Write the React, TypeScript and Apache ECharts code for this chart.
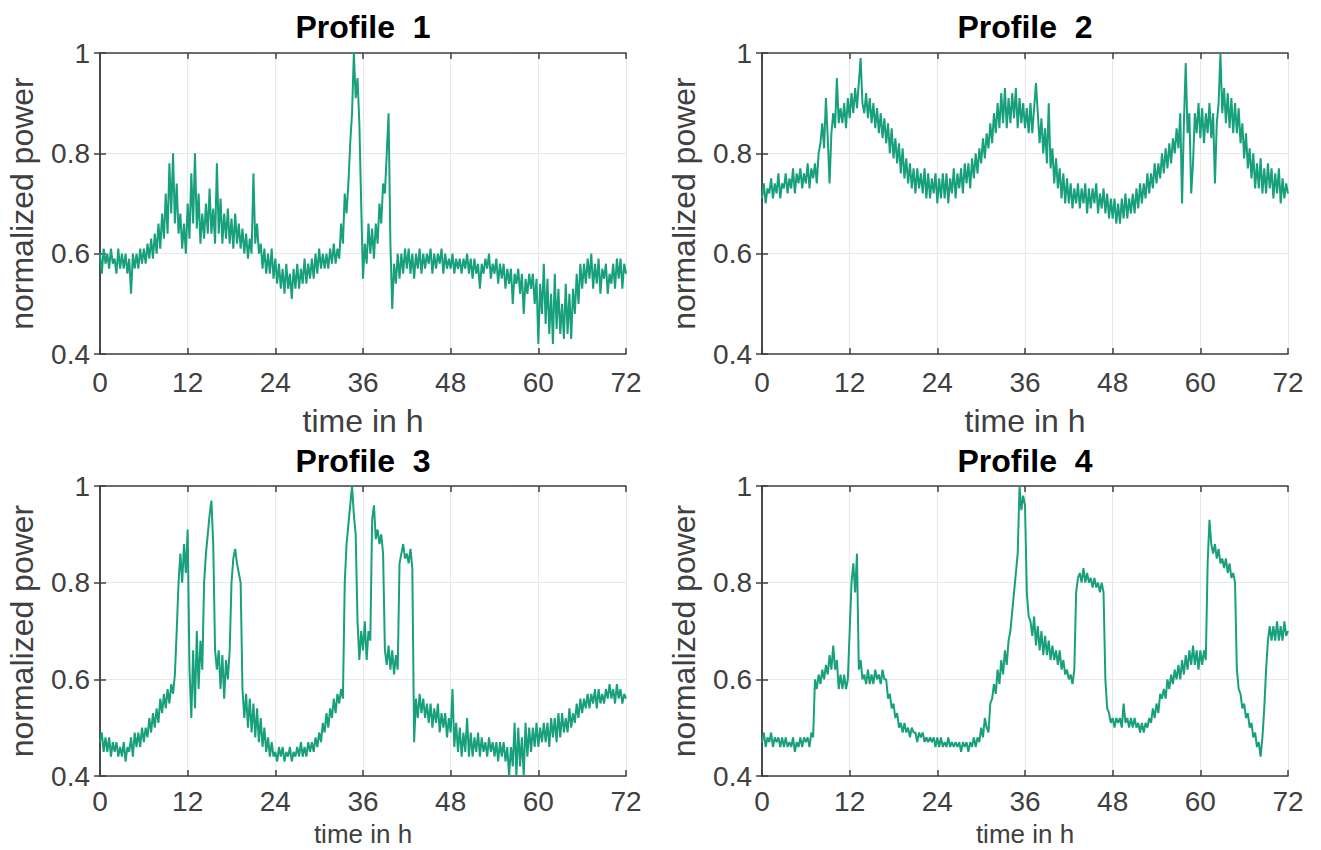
import React, { useEffect, useRef } from "react";
import * as echarts from "echarts";

// time step of the sampled profiles, in hours
const STEP = 0.25;
const X_TICKS = [0, 12, 24, 36, 48, 60, 72];
const Y_TICKS = [0.4, 0.6, 0.8, 1];
const TITLES = ["Profile  1", "Profile  2", "Profile  3", "Profile  4"];

// Each row = one hour, four samples (0, 0.25, 0.5, 0.75 h)
const profile1 = [
  0.60, 0.56, 0.61, 0.58, 0.60, 0.57, 0.61, 0.58, 0.59, 0.56, 0.61, 0.57,
  0.60, 0.57, 0.60, 0.56, 0.59, 0.52, 0.60, 0.57, 0.60, 0.57, 0.61, 0.58,
  0.61, 0.58, 0.62, 0.59, 0.63, 0.59, 0.64, 0.60, 0.66, 0.61, 0.68, 0.63,
  0.72, 0.64, 0.78, 0.68, 0.80, 0.66, 0.74, 0.64, 0.68, 0.61, 0.66, 0.60,
  0.70, 0.63, 0.76, 0.66, 0.80, 0.65, 0.72, 0.62, 0.68, 0.63, 0.70, 0.64,
  0.73, 0.64, 0.69, 0.62, 0.78, 0.64, 0.71, 0.62, 0.68, 0.63, 0.69, 0.62,
  0.67, 0.61, 0.68, 0.62, 0.66, 0.61, 0.65, 0.60, 0.64, 0.59, 0.63, 0.60,
  0.76, 0.62, 0.66, 0.60, 0.62, 0.57, 0.61, 0.56, 0.60, 0.56, 0.61, 0.55,
  0.59, 0.54, 0.58, 0.53, 0.57, 0.52, 0.58, 0.53, 0.56, 0.51, 0.57, 0.53,
  0.58, 0.53, 0.57, 0.54, 0.59, 0.54, 0.58, 0.55, 0.59, 0.55, 0.60, 0.56,
  0.61, 0.57, 0.60, 0.57, 0.60, 0.57, 0.61, 0.58, 0.62, 0.58, 0.61, 0.59,
  0.66, 0.62, 0.72, 0.68, 0.74, 0.82, 0.88, 1.00, 0.91, 0.95, 0.86, 0.70,
  0.55, 0.62, 0.58, 0.66, 0.60, 0.65, 0.59, 0.66, 0.62, 0.70, 0.66, 0.74,
  0.72, 0.80, 0.88, 0.62, 0.49, 0.58, 0.54, 0.60, 0.55, 0.60, 0.56, 0.61,
  0.57, 0.61, 0.56, 0.60, 0.55, 0.60, 0.57, 0.61, 0.56, 0.60, 0.57, 0.60,
  0.58, 0.61, 0.56, 0.60, 0.57, 0.60, 0.58, 0.61, 0.56, 0.60, 0.57, 0.59,
  0.57, 0.60, 0.56, 0.59, 0.57, 0.59, 0.56, 0.59, 0.57, 0.60, 0.56, 0.59,
  0.55, 0.59, 0.56, 0.58, 0.53, 0.58, 0.56, 0.59, 0.57, 0.60, 0.55, 0.58,
  0.56, 0.59, 0.54, 0.58, 0.55, 0.58, 0.53, 0.57, 0.54, 0.57, 0.50, 0.56,
  0.54, 0.57, 0.52, 0.56, 0.48, 0.55, 0.52, 0.56, 0.53, 0.56, 0.50, 0.55,
  0.42, 0.54, 0.48, 0.58, 0.46, 0.55, 0.44, 0.52, 0.42, 0.56, 0.45, 0.53,
  0.44, 0.50, 0.43, 0.54, 0.44, 0.52, 0.43, 0.53, 0.48, 0.56, 0.50, 0.58,
  0.53, 0.58, 0.54, 0.59, 0.55, 0.60, 0.53, 0.58, 0.54, 0.59, 0.52, 0.57,
  0.55, 0.58, 0.52, 0.56, 0.54, 0.58, 0.53, 0.59, 0.55, 0.59, 0.53, 0.58,
  0.56,
];

const profile2 = [
  0.71, 0.74, 0.70, 0.73, 0.72, 0.75, 0.71, 0.74, 0.72, 0.76, 0.71, 0.74,
  0.73, 0.76, 0.72, 0.75, 0.73, 0.77, 0.72, 0.76, 0.74, 0.77, 0.73, 0.76,
  0.74, 0.78, 0.73, 0.77, 0.75, 0.78, 0.74, 0.80, 0.82, 0.86, 0.81, 0.91,
  0.83, 0.74, 0.84, 0.88, 0.85, 0.95, 0.86, 0.89, 0.86, 0.90, 0.85, 0.91,
  0.87, 0.92, 0.88, 0.93, 0.89, 0.94, 0.99, 0.90, 0.88, 0.92, 0.87, 0.91,
  0.86, 0.90, 0.85, 0.89, 0.84, 0.88, 0.83, 0.87, 0.82, 0.86, 0.80, 0.85,
  0.79, 0.83, 0.78, 0.82, 0.76, 0.81, 0.75, 0.79, 0.74, 0.78, 0.73, 0.77,
  0.72, 0.77, 0.73, 0.76, 0.72, 0.77, 0.71, 0.76, 0.71, 0.75, 0.72, 0.76,
  0.70, 0.75, 0.71, 0.76, 0.71, 0.76, 0.70, 0.75, 0.72, 0.77, 0.71, 0.76,
  0.73, 0.77, 0.72, 0.78, 0.74, 0.78, 0.73, 0.79, 0.75, 0.80, 0.76, 0.81,
  0.78, 0.83, 0.79, 0.84, 0.81, 0.86, 0.82, 0.88, 0.84, 0.90, 0.85, 0.92,
  0.86, 0.93, 0.85, 0.91, 0.86, 0.92, 0.87, 0.93, 0.85, 0.91, 0.86, 0.90,
  0.85, 0.89, 0.84, 0.90, 0.84, 0.89, 0.94, 0.88, 0.82, 0.87, 0.80, 0.85,
  0.78, 0.90, 0.77, 0.81, 0.74, 0.79, 0.73, 0.77, 0.71, 0.76, 0.70, 0.75,
  0.70, 0.74, 0.69, 0.73, 0.70, 0.74, 0.69, 0.73, 0.70, 0.74, 0.68, 0.73,
  0.69, 0.73, 0.70, 0.74, 0.68, 0.72, 0.69, 0.73, 0.68, 0.72, 0.67, 0.71,
  0.67, 0.71, 0.66, 0.70, 0.66, 0.71, 0.67, 0.72, 0.67, 0.71, 0.68, 0.72,
  0.68, 0.73, 0.69, 0.74, 0.70, 0.74, 0.71, 0.76, 0.72, 0.76, 0.73, 0.78,
  0.74, 0.78, 0.75, 0.80, 0.76, 0.81, 0.77, 0.82, 0.78, 0.83, 0.80, 0.85,
  0.81, 0.88, 0.70, 0.86, 0.98, 0.84, 0.88, 0.72, 0.78, 0.88, 0.84, 0.90,
  0.83, 0.89, 0.82, 0.88, 0.84, 0.90, 0.83, 0.88, 0.74, 0.86, 0.90, 1.00,
  0.88, 0.93, 0.86, 0.92, 0.85, 0.91, 0.84, 0.90, 0.84, 0.89, 0.82, 0.86,
  0.79, 0.84, 0.77, 0.81, 0.75, 0.80, 0.73, 0.78, 0.73, 0.79, 0.72, 0.77,
  0.72, 0.78, 0.73, 0.77, 0.71, 0.76, 0.72, 0.77, 0.70, 0.75, 0.71, 0.74,
  0.72,
];

const profile3 = [
  0.47, 0.49, 0.45, 0.48, 0.45, 0.48, 0.44, 0.47, 0.45, 0.47, 0.44, 0.46,
  0.44, 0.47, 0.43, 0.46, 0.45, 0.48, 0.44, 0.49, 0.46, 0.49, 0.46, 0.50,
  0.47, 0.50, 0.48, 0.52, 0.49, 0.53, 0.50, 0.54, 0.51, 0.56, 0.53, 0.57,
  0.54, 0.58, 0.55, 0.59, 0.57, 0.61, 0.70, 0.80, 0.86, 0.80, 0.88, 0.82,
  0.91, 0.62, 0.52, 0.66, 0.54, 0.70, 0.58, 0.68, 0.62, 0.80, 0.86, 0.90,
  0.94, 0.97, 0.88, 0.66, 0.62, 0.66, 0.58, 0.65, 0.56, 0.64, 0.60, 0.66,
  0.80, 0.85, 0.87, 0.84, 0.82, 0.80, 0.58, 0.52, 0.57, 0.50, 0.56, 0.49,
  0.55, 0.48, 0.54, 0.47, 0.52, 0.46, 0.50, 0.45, 0.48, 0.44, 0.47, 0.44,
  0.45, 0.43, 0.46, 0.44, 0.46, 0.43, 0.45, 0.44, 0.46, 0.43, 0.45, 0.44,
  0.46, 0.44, 0.47, 0.44, 0.46, 0.44, 0.47, 0.45, 0.47, 0.45, 0.48, 0.46,
  0.49, 0.47, 0.51, 0.49, 0.53, 0.50, 0.54, 0.52, 0.56, 0.53, 0.57, 0.55,
  0.58, 0.56, 0.80, 0.88, 0.92, 0.96, 1.00, 0.94, 0.90, 0.72, 0.64, 0.70,
  0.66, 0.72, 0.64, 0.70, 0.68, 0.93, 0.96, 0.89, 0.91, 0.88, 0.90, 0.86,
  0.66, 0.63, 0.67, 0.62, 0.66, 0.61, 0.65, 0.62, 0.84, 0.86, 0.88, 0.85,
  0.86, 0.84, 0.87, 0.83, 0.47, 0.56, 0.52, 0.57, 0.53, 0.56, 0.52, 0.55,
  0.51, 0.55, 0.50, 0.54, 0.51, 0.55, 0.49, 0.53, 0.50, 0.53, 0.48, 0.52,
  0.49, 0.58, 0.46, 0.51, 0.45, 0.50, 0.44, 0.49, 0.45, 0.52, 0.44, 0.49,
  0.44, 0.48, 0.45, 0.49, 0.44, 0.48, 0.45, 0.47, 0.44, 0.48, 0.45, 0.47,
  0.44, 0.47, 0.43, 0.47, 0.44, 0.47, 0.43, 0.46, 0.40, 0.46, 0.42, 0.51,
  0.40, 0.50, 0.42, 0.48, 0.40, 0.51, 0.44, 0.50, 0.45, 0.50, 0.46, 0.51,
  0.46, 0.50, 0.47, 0.51, 0.47, 0.51, 0.46, 0.52, 0.48, 0.52, 0.47, 0.53,
  0.48, 0.53, 0.49, 0.52, 0.49, 0.54, 0.50, 0.53, 0.51, 0.55, 0.52, 0.56,
  0.53, 0.56, 0.54, 0.57, 0.54, 0.57, 0.55, 0.58, 0.54, 0.58, 0.55, 0.57,
  0.55, 0.58, 0.56, 0.59, 0.56, 0.58, 0.55, 0.59, 0.56, 0.58, 0.55, 0.57,
  0.56,
];

const profile4 = [
  0.47, 0.49, 0.46, 0.48, 0.47, 0.49, 0.46, 0.48, 0.47, 0.48, 0.46, 0.48,
  0.46, 0.48, 0.46, 0.47, 0.46, 0.48, 0.45, 0.47, 0.46, 0.48, 0.46, 0.48,
  0.47, 0.48, 0.46, 0.49, 0.48, 0.60, 0.58, 0.61, 0.59, 0.62, 0.60, 0.63,
  0.61, 0.65, 0.62, 0.67, 0.62, 0.64, 0.58, 0.61, 0.58, 0.61, 0.58, 0.60,
  0.70, 0.80, 0.84, 0.78, 0.86, 0.62, 0.64, 0.60, 0.61, 0.59, 0.62, 0.59,
  0.61, 0.59, 0.62, 0.60, 0.61, 0.59, 0.62, 0.60, 0.60, 0.56, 0.57, 0.54,
  0.55, 0.52, 0.53, 0.50, 0.51, 0.49, 0.51, 0.49, 0.50, 0.48, 0.50, 0.49,
  0.49, 0.47, 0.49, 0.48, 0.49, 0.47, 0.48, 0.47, 0.48, 0.47, 0.48, 0.46,
  0.48, 0.46, 0.48, 0.46, 0.47, 0.46, 0.48, 0.46, 0.47, 0.46, 0.47, 0.46,
  0.47, 0.45, 0.47, 0.46, 0.47, 0.45, 0.47, 0.46, 0.48, 0.46, 0.48, 0.47,
  0.50, 0.48, 0.52, 0.50, 0.49, 0.55, 0.56, 0.59, 0.57, 0.62, 0.59, 0.64,
  0.61, 0.66, 0.63, 0.68, 0.70, 0.74, 0.78, 0.82, 0.86, 1.00, 0.95, 0.98,
  0.96, 0.78, 0.73, 0.72, 0.69, 0.73, 0.67, 0.71, 0.66, 0.70, 0.65, 0.69,
  0.65, 0.68, 0.64, 0.67, 0.64, 0.66, 0.63, 0.66, 0.62, 0.64, 0.61, 0.62,
  0.60, 0.61, 0.59, 0.62, 0.78, 0.81, 0.82, 0.80, 0.83, 0.80, 0.82, 0.80,
  0.81, 0.79, 0.81, 0.79, 0.80, 0.78, 0.80, 0.78, 0.60, 0.54, 0.53, 0.51,
  0.52, 0.50, 0.52, 0.51, 0.52, 0.50, 0.55, 0.51, 0.52, 0.50, 0.52, 0.50,
  0.52, 0.50, 0.51, 0.49, 0.51, 0.49, 0.51, 0.50, 0.52, 0.51, 0.54, 0.52,
  0.55, 0.53, 0.57, 0.56, 0.58, 0.56, 0.60, 0.58, 0.61, 0.59, 0.62, 0.60,
  0.63, 0.60, 0.64, 0.61, 0.65, 0.62, 0.66, 0.63, 0.67, 0.63, 0.66, 0.62,
  0.66, 0.63, 0.66, 0.64, 0.84, 0.93, 0.88, 0.86, 0.88, 0.85, 0.87, 0.84,
  0.85, 0.83, 0.85, 0.82, 0.84, 0.81, 0.82, 0.80, 0.62, 0.58, 0.57, 0.54,
  0.55, 0.52, 0.53, 0.50, 0.51, 0.48, 0.49, 0.46, 0.47, 0.44, 0.48, 0.54,
  0.62, 0.68, 0.71, 0.68, 0.71, 0.68, 0.72, 0.68, 0.71, 0.68, 0.72, 0.69,
  0.70,
];

const PROFILES = [profile1, profile2, profile3, profile4];

const LINE_COLOR = "#18a07c";
const AXIS_COLOR = "#404040";
const TEXT_COLOR = "#404040";
const GRID_COLOR = "#e8e8e8";
const FONT = "'Liberation Sans', Arial, Helvetica, sans-serif";

const GRIDS = [
  { left: 100, top: 53, width: 526, height: 301 },
  { left: 762, top: 53, width: 526, height: 301 },
  { left: 100, top: 486, width: 526, height: 290 },
  { left: 762, top: 486, width: 526, height: 290 },
];
const X_NAME_GAPS = [51, 51, 45, 45];
const X_NAME_SIZES = [32, 32, 26, 26];
const X_NAME_LINE_HEIGHTS = [undefined, undefined, 26, 26];
const X_LABEL_MARGINS = [14, 14, 11, 11];

export default function App() {
  const ref = useRef<HTMLDivElement>(null);

  useEffect(() => {
    if (!ref.current) return;
    const chart = echarts.init(ref.current, undefined, { renderer: "svg" });

    const xMin = X_TICKS[0];
    const xMax = X_TICKS[X_TICKS.length - 1];
    const xInt = X_TICKS[1] - X_TICKS[0];
    const yMin = Y_TICKS[0];
    const yMax = Y_TICKS[Y_TICKS.length - 1];
    const yInt = 0.2;

    const boxLine = { show: true, lineStyle: { color: AXIS_COLOR, width: 1.5 } };
    const boxTick = { show: true, inside: true, length: 6, lineStyle: { color: AXIS_COLOR, width: 1.5 } };

    const xAxes: any[] = [];
    const yAxes: any[] = [];
    const series: any[] = [];
    GRIDS.forEach((_, gi) => {
      const nameStyle: any = { fontSize: X_NAME_SIZES[gi], color: TEXT_COLOR, fontFamily: FONT };
      if (X_NAME_LINE_HEIGHTS[gi]) nameStyle.lineHeight = X_NAME_LINE_HEIGHTS[gi];
      xAxes.push({
        type: "value",
        gridIndex: gi,
        min: xMin,
        max: xMax,
        interval: xInt,
        position: "bottom",
        name: "time in h",
        nameLocation: "middle",
        nameGap: X_NAME_GAPS[gi],
        nameMoveOverlap: false,
        nameTextStyle: nameStyle,
        axisLine: boxLine,
        axisTick: boxTick,
        axisLabel: { fontSize: 28, color: TEXT_COLOR, fontFamily: FONT, margin: X_LABEL_MARGINS[gi] },
        splitLine: { show: true, lineStyle: { color: GRID_COLOR, width: 1 } },
      });
      xAxes.push({
        type: "value",
        gridIndex: gi,
        min: xMin,
        max: xMax,
        interval: xInt,
        position: "top",
        axisLine: boxLine,
        axisTick: boxTick,
        axisLabel: { show: false },
        splitLine: { show: false },
      });
      yAxes.push({
        type: "value",
        gridIndex: gi,
        min: yMin,
        max: yMax,
        interval: yInt,
        position: "left",
        name: "normalized power",
        nameLocation: "middle",
        nameRotate: 90,
        nameGap: 62,
        nameMoveOverlap: false,
        nameTextStyle: { fontSize: 32, color: TEXT_COLOR, fontFamily: FONT },
        axisLine: boxLine,
        axisTick: boxTick,
        axisLabel: {
          fontSize: 28,
          color: TEXT_COLOR,
          fontFamily: FONT,
          margin: 10,
          formatter: (v: number) => String(Math.round(v * 10) / 10),
        },
        splitLine: { show: true, lineStyle: { color: GRID_COLOR, width: 1 } },
      });
      yAxes.push({
        type: "value",
        gridIndex: gi,
        min: yMin,
        max: yMax,
        interval: yInt,
        position: "right",
        axisLine: boxLine,
        axisTick: boxTick,
        axisLabel: { show: false },
        splitLine: { show: false },
      });
      series.push({
        type: "line",
        xAxisIndex: gi * 2,
        yAxisIndex: gi * 2,
        data: PROFILES[gi].map((v, i) => [i * STEP, v]),
        showSymbol: false,
        symbol: "none",
        lineStyle: { color: LINE_COLOR, width: 2 },
        clip: true,
        z: 3,
      });
    });

    const titleYs = [27, 461];
    const graphic = GRIDS.map((g, gi) => ({
      type: "text",
      x: g.left + g.width / 2,
      y: titleYs[Math.floor(gi / 2)],
      style: {
        text: TITLES[gi],
        fontSize: 32,
        fontWeight: "bold",
        fontFamily: FONT,
        fill: "#000000",
        textAlign: "center",
        textVerticalAlign: "middle",
      },
    }));

    chart.setOption({
      animation: false,
      backgroundColor: "#ffffff",
      grid: GRIDS.map((g) => ({ ...g, containLabel: false, outerBoundsMode: "none" })),
      xAxis: xAxes,
      yAxis: yAxes,
      series,
      graphic,
    });

    return () => chart.dispose();
  }, []);

  return <div ref={ref} style={{ width: 1321, height: 850, position: "absolute", left: 0, top: 0 }} />;
}
